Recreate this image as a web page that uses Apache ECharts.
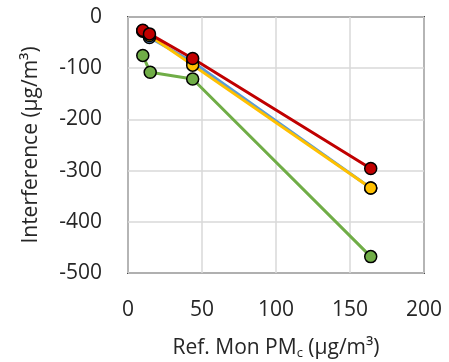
<!DOCTYPE html>
<html>
<head>
<meta charset="utf-8">
<script src="https://cdn.jsdelivr.net/npm/echarts@6/dist/echarts.min.js"></script>
<style>
  html, body { margin: 0; padding: 0; background: #fff; }
  #chart { width: 449px; height: 362px; }
</style>
</head>
<body>
<div id="chart"></div>
<script>
// ref monitor concentration (x) for each series
const xBlue = [10, 14.5, 43.7, 164];
const yBlue = [-28, -40, -88, -334];
const xOrange = [10, 14.5, 43.7, 164];
const yOrange = [-27, -36, -94, -334];
const xRed = [10, 14.5, 43.7, 164];
const yRed = [-26, -33, -81, -296];
const xGreen = [10, 15, 43.7, 164];
const yGreen = [-75, -108, -121, -468];

const xTicks = [0, 50, 100, 150, 200];
const yTicks = [-500, -400, -300, -200, -100, 0];

const font = 'Open Sans';
const textColor = '#262626';

function pairs(xs, ys) {
    return xs.map(function(x, i) { return [x, ys[i]]; });
}

function lineSeries(name, color, xs, ys) {
    return {
        name: name,
        type: 'line',
        data: pairs(xs, ys),
        symbol: 'circle',
        symbolSize: 12,
        lineStyle: { color: color, width: 3 },
        itemStyle: { color: color, borderColor: '#000', borderWidth: 1.5 },
        emphasis: { disabled: true },
        animation: false
    };
}

const chart = echarts.init(document.getElementById('chart'), null, { renderer: 'canvas' });

chart.setOption({
    backgroundColor: '#fff',
    grid: {
        left: 128, right: 25, top: 17, bottom: 89,
        outerBoundsMode: 'none',
        containLabel: false,
        show: true, borderColor: '#3a3a3a', borderWidth: 1.8
    },
    xAxis: {
        type: 'value',
        min: xTicks[0], max: xTicks[xTicks.length - 1], interval: 50,
        axisLine: { show: false },
        axisTick: { show: false },
        splitLine: { lineStyle: { color: '#d9d9d9', width: 1.5 } },
        axisLabel: { fontFamily: font, fontSize: 21, color: textColor, margin: 27 },
        name: '{n|Ref. Mon PM}{s|c}{n| (μg/m³)}',
        nameLocation: 'middle',
        nameGap: 63,
        nameTextStyle: {
            rich: {
                n: { fontFamily: font, fontSize: 21, color: textColor },
                s: { fontFamily: font, fontSize: 13, color: textColor, padding: [11, 0, 0, 0] }
            }
        }
    },
    yAxis: {
        type: 'value',
        min: yTicks[0], max: yTicks[yTicks.length - 1], interval: 100,
        axisLine: { show: false },
        axisTick: { show: false },
        splitLine: { lineStyle: { color: '#d9d9d9', width: 1.5 } },
        axisLabel: { fontFamily: font, fontSize: 21, color: textColor, margin: 26 },
        name: 'Interference (μg/m³)',
        nameLocation: 'middle',
        nameGap: 86,
        nameTextStyle: { fontFamily: font, fontSize: 21, color: textColor }
    },
    series: [
        lineSeries('blue', '#5B9BD5', xBlue, yBlue),
        lineSeries('orange', '#FFC000', xOrange, yOrange),
        lineSeries('red', '#C00000', xRed, yRed),
        lineSeries('green', '#70AD47', xGreen, yGreen)
    ]
});
</script>
</body>
</html>
